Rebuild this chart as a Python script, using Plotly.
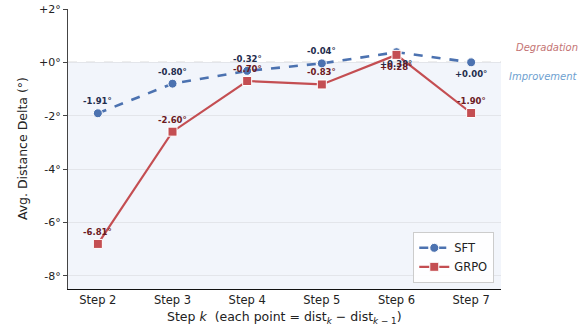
import plotly.graph_objects as go

steps = ["Step 2", "Step 3", "Step 4", "Step 5", "Step 6", "Step 7"]
sft = [-1.91, -0.80, -0.32, -0.04, 0.38, 0.00]
grpo = [-6.81, -2.60, -0.70, -0.83, 0.28, -1.90]
ytick_vals = [2, 0, -2, -4, -6, -8]
ytick_text = ["+2°", "+0°", "-2°", "-4°", "-6°", "-8°"]

SFT_C = "#4c72b0"
GRPO_C = "#c44e52"
FONT = "DejaVu Sans"

fig = go.Figure()
fig.add_trace(go.Scatter(
    x=steps, y=sft, name="SFT", mode="lines+markers",
    line=dict(color=SFT_C, width=2.6, dash="dash"),
    marker=dict(symbol="circle", size=9, color=SFT_C, line=dict(color="white", width=1)),
))
fig.add_trace(go.Scatter(
    x=steps, y=grpo, name="GRPO", mode="lines+markers",
    line=dict(color=GRPO_C, width=2.2),
    marker=dict(symbol="square", size=9, color=GRPO_C, line=dict(color="white", width=1)),
))

# shaded improvement region
fig.add_shape(type="rect", xref="paper", yref="y", x0=0, x1=1, y0=-8.5, y1=0,
              fillcolor="#f2f5fb", line_width=0, layer="below")
fig.add_shape(type="line", xref="paper", yref="y", x0=0, x1=1, y0=0, y1=0,
              line=dict(color="#9a9a9a", width=1, dash="dash"), layer="below")

def fmt(v):
    return ("+" if v >= 0 else "") + f"{v:.2f}°"

for i, v in enumerate(sft):
    fig.add_annotation(x=steps[i], y=v, text="<b>" + fmt(v) + "</b>", showarrow=False,
                       yshift=(-12 if v >= 0 else 12),
                       font=dict(family=FONT, size=8.5, color="#1f2d4d"))
for i, v in enumerate(grpo):
    fig.add_annotation(x=steps[i], y=v, text="<b>" + fmt(v) + "</b>", showarrow=False,
                       yshift=(-12 if v >= 0 else 12),
                       font=dict(family=FONT, size=8.5, color="#6b1a1f"))

fig.add_annotation(xref="paper", yref="y", x=1.106, y=0.56, xanchor="center",
                   text="<i>Degradation</i>",
                   showarrow=False, font=dict(family=FONT, size=10, color="#c47474"))
fig.add_annotation(xref="paper", yref="y", x=1.099, y=-0.53, xanchor="center",
                   text="<i>Improvement</i>",
                   showarrow=False, font=dict(family=FONT, size=10, color="#6e9fd0"))

# axis titles
fig.add_annotation(xref="paper", yref="paper", x=0.5, y=-0.103, xanchor="center", yanchor="middle",
                   text="Step <i>k</i>  (each point = dist<sub><i>k</i></sub> − dist<sub><i>k</i> − 1</sub>)",
                   showarrow=False, font=dict(family=FONT, size=12.5, color="#222222"))
fig.add_annotation(xref="paper", yref="paper", x=-0.106, y=0.5, textangle=-90,
                   xanchor="center", yanchor="middle",
                   text="Avg. Distance Delta (°)",
                   showarrow=False, font=dict(family=FONT, size=12.5, color="#222222"))

fig.update_layout(
    width=585, height=329,
    margin=dict(l=68, r=84, t=9, b=40, autoexpand=False),
    paper_bgcolor="white", plot_bgcolor="white",
    font=dict(family=FONT, size=11, color="#222222"),
    showlegend=True,
    legend=dict(x=0.984, y=0.021, xanchor="right", yanchor="bottom",
                bgcolor="rgba(255,255,255,0.9)", bordercolor="#cccccc", borderwidth=1.2,
                font=dict(family=FONT, size=11.5, color="#222222"),
                itemwidth=30, tracegroupgap=0),
)
fig.update_xaxes(
    range=[-0.4, 5.4], showgrid=False, zeroline=False, automargin=False,
    showline=True, linecolor="#111111", linewidth=1.3,
    ticks="", tickfont=dict(family=FONT, size=11.5, color="#222222"),
)
fig.update_yaxes(
    range=[-8.5, 2.0], tickvals=ytick_vals, ticktext=ytick_text, automargin=False,
    showgrid=True, gridcolor="#e3e5ea", gridwidth=1, zeroline=False,
    showline=True, linecolor="#444444", linewidth=1.3,
    ticks="outside", ticklen=4, tickcolor="#444444",
    tickfont=dict(family=FONT, size=11, color="#222222"),
)

# remove the browser's default 8px body margin so the figure fills the window
fig.write_html("out.html", config={"displayModeBar": False},
               post_script="document.body.style.margin='0';")
